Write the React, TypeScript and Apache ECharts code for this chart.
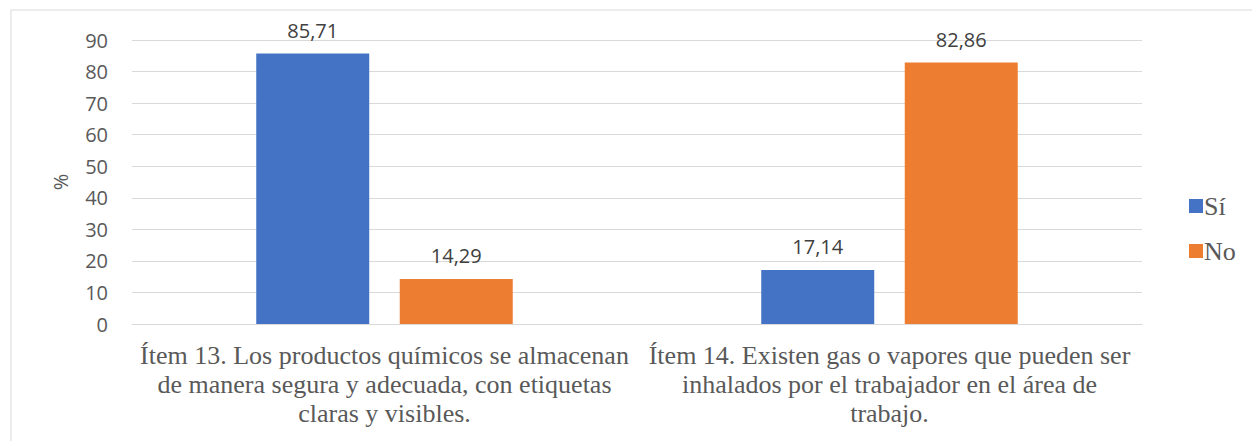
import React, { useEffect, useRef } from "react";
import * as echarts from "echarts";

const categories = [
  "Ítem 13. Los productos químicos se almacenan\nde manera segura y adecuada, con etiquetas\nclaras y visibles.",
  "Ítem 14. Existen gas o vapores que pueden ser\ninhalados por el trabajador en el área de\ntrabajo.",
];
const siValues = [85.71, 17.14];
const noValues = [14.29, 82.86];
const seriesNames = ["Sí", "No"];

export default function App() {
  const ref = useRef<HTMLDivElement>(null);
  useEffect(() => {
    if (!ref.current) return;
    const chart = echarts.init(ref.current, undefined, { renderer: "svg" });
    const fmt = (p: any) => String(p.value.toFixed(2)).replace(".", ",");
    const labelStyle = {
      show: true,
      position: "top" as const,
      distance: 13,
      fontFamily: "Open Sans",
      fontSize: 20,
      color: "#404040",
      formatter: fmt,
    };
    chart.setOption({
      animation: false,
      backgroundColor: "#ffffff",
      graphic: [
        {
          type: "rect",
          shape: { x: 11, y: 10, width: 1260, height: 460 },
          style: { fill: "none", stroke: "#d9d9d9", lineWidth: 1 },
          silent: true,
        },
      ],
      grid: { left: 132, right: 110, top: 40, bottom: 117 },
      legend: {
        orient: "vertical",
        left: 1184,
        top: 188,
        itemWidth: 14,
        itemHeight: 14,
        itemGap: 19,
        icon: "rect",
        textStyle: { fontFamily: "Liberation Serif", fontSize: 26, color: "#595959", padding: [0, 0, 0, -4] },
        data: seriesNames,
      },
      xAxis: {
        type: "category",
        data: categories,
        axisLine: { lineStyle: { color: "#d9d9d9", width: 1 } },
        axisTick: { show: false },
        axisLabel: {
          interval: 0,
          margin: 17,
          fontFamily: "Liberation Serif",
          fontSize: 26,
          lineHeight: 29,
          color: "#595959",
          align: "center",
        },
      },
      yAxis: {
        type: "value",
        min: 0,
        max: 90,
        interval: 10,
        name: "%",
        nameLocation: "middle",
        nameGap: 62,
        nameRotate: 90,
        nameTextStyle: { fontFamily: "Open Sans", fontSize: 20, color: "#595959" },
        axisLine: { show: false },
        axisTick: { show: false },
        axisLabel: { margin: 24, fontFamily: "Open Sans", fontSize: 20, color: "#595959" },
        splitLine: { lineStyle: { color: "#d9d9d9", width: 1 } },
      },
      series: [
        {
          name: seriesNames[0],
          type: "bar",
          data: siValues,
          barWidth: 113,
          barGap: "27%",
          itemStyle: { color: "#4472c4" },
          label: labelStyle,
        },
        {
          name: seriesNames[1],
          type: "bar",
          data: noValues,
          barWidth: 113,
          itemStyle: { color: "#ed7d31" },
          label: labelStyle,
        },
      ],
    });
    return () => chart.dispose();
  }, []);
  return (
    <div
      ref={ref}
      style={{ position: "fixed", left: 0, top: 0, width: 1252, height: 441 }}
    />
  );
}
